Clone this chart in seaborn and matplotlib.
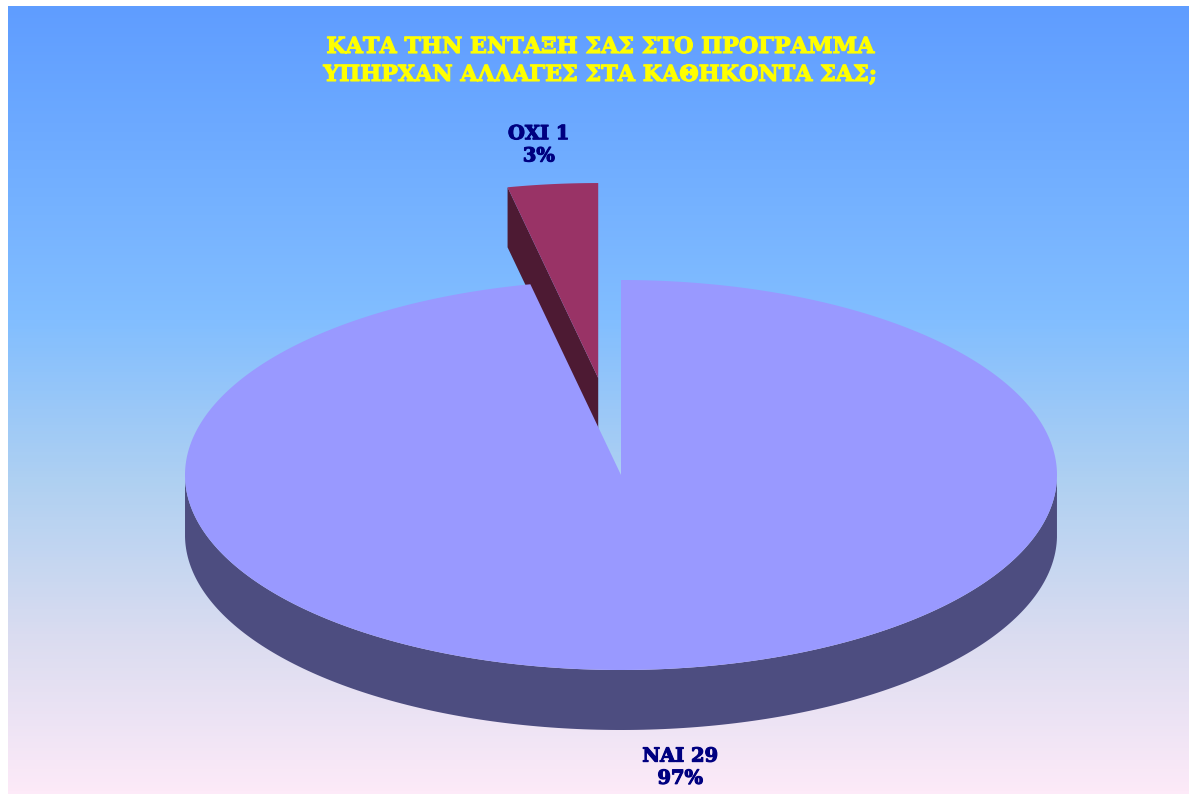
import numpy as np
import matplotlib
matplotlib.use('Agg')
import matplotlib.pyplot as plt
import matplotlib.patheffects as pe
from matplotlib.colors import LinearSegmentedColormap
import seaborn as sns

# data
labels = ['ΝΑΙ', 'ΟΧΙ']
counts = [29, 1]
explode = [0.0, 0.5]
top_colors = ['#9999FF', '#993366']
side_colors = ['#4D4D80', '#4D1A33']
title = 'ΚΑΤΑ ΤΗΝ ΕΝΤΑΞΗ ΣΑΣ ΣΤΟ ΠΡΟΓΡΑΜΜΑ\nΥΠΗΡΧΑΝ ΑΛΛΑΓΕΣ ΣΤΑ ΚΑΘΗΚΟΝΤΑ ΣΑΣ;'

sns.set_theme(style='white')
plt.rcParams['font.family'] = ['DejaVu Serif']

fig = plt.figure(figsize=(11.89, 7.94), dpi=100)
ax = fig.add_axes([0, 0, 1, 1])

# gradient background
bg = LinearSegmentedColormap.from_list('bg', [(0.0, '#5F9DFF'), (0.4, '#82BEFF'),
                                              (0.6, '#AED0F2'), (0.8, '#DADCF0'),
                                              (1.0, '#FDEAF8')])
grad = np.linspace(0, 1, 256).reshape(-1, 1)
ax.imshow(grad, cmap=bg, extent=[8, 1189, 794, 6], aspect='auto', zorder=0)

# 3d pie geometry (pixel units)
cx, cy = 621, 475
rx, ry = 436, 195
depth = 60

total = sum(counts)
fracs = np.array(counts) / total
cum = np.concatenate([[0], np.cumsum(fracs)]) * 360
slices = []
for i in range(len(counts)):
    t_hi = 90 - cum[i]
    t_lo = 90 - cum[i + 1]
    mid = np.radians((t_hi + t_lo) / 2)
    ox = explode[i] * rx * np.cos(mid)
    oy = -explode[i] * ry * np.sin(mid)
    slices.append((i, t_lo, t_hi, mid, ox, oy))


def pt(t, ox, oy, dz=0):
    return cx + ox + rx * np.cos(t), cy + oy - ry * np.sin(t) + dz


# back slices first
for i, t_lo, t_hi, mid, ox, oy in sorted(slices, key=lambda s: -np.sin(s[3])):
    ts = np.radians(np.linspace(t_lo, t_hi, 400))
    # outer wall, front half only
    front = np.sin(ts) < 0
    if front.any():
        tf = ts[front]
        xt, yt = pt(tf, ox, oy)
        xb, yb = pt(tf[::-1], ox, oy, depth)
        ax.fill(np.concatenate([xt, xb]), np.concatenate([yt, yb]),
                color=side_colors[i], lw=0, zorder=2)
    # radial walls facing the viewer
    for t, visible in [(np.radians(t_hi), np.cos(np.radians(t_hi)) < -1e-9),
                       (np.radians(t_lo), np.cos(np.radians(t_lo)) > 1e-9)]:
        if visible:
            ex, ey = pt(t, ox, oy)
            px = [cx + ox, ex, ex, cx + ox]
            py = [cy + oy, ey, ey + depth, cy + oy + depth]
            ax.fill(px, py, color=side_colors[i], lw=0, zorder=2)
    # top face
    xa, ya = pt(ts, ox, oy)
    ax.fill(np.concatenate([[cx + ox], xa]), np.concatenate([[cy + oy], ya]),
            color=top_colors[i], lw=0, zorder=2)
    # label
    lx = cx + ox + rx * 1.3 * np.cos(mid)
    ly = cy + oy - ry * 1.2 * np.sin(mid) + (depth if np.sin(mid) < 0 else 0)
    ax.text(lx, ly, f'{labels[i]} {counts[i]}\n{fracs[i] * 100:.0f}%',
            ha='center', va='center', color='#000080', fontsize=14,
            fontweight='bold', linespacing=1.3, zorder=3,
            path_effects=[pe.withStroke(linewidth=0.8, foreground='#000080')])

ax.text(601, 61, title, ha='center', va='center', color='#FFFF00',
        fontsize=16, fontweight='bold', linespacing=1.35, zorder=3,
        path_effects=[pe.withStroke(linewidth=0.8, foreground='#FFFF00')])

ax.set_xlim(0, 1189)
ax.set_ylim(794, 0)
ax.axis('off')

plt.savefig('out.png', dpi=100, facecolor='white')
